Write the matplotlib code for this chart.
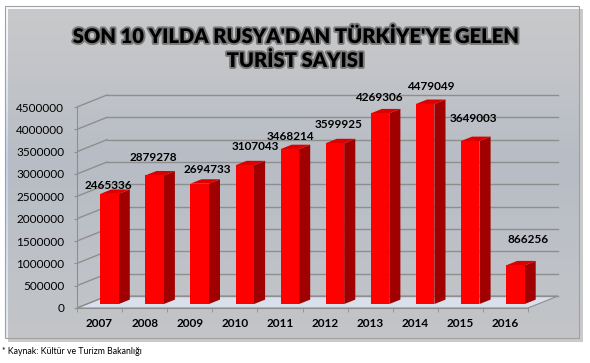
import numpy as np
import matplotlib
matplotlib.use("Agg")
import matplotlib.pyplot as plt
from matplotlib.patches import Polygon, Rectangle
import matplotlib.patheffects as pe

plt.rcParams["font.family"] = ["Lato", "DejaVu Sans"]

# ── Data ───────────────────────────────────────────────────────────────
YEARS = ["2007", "2008", "2009", "2010", "2011", "2012", "2013", "2014", "2015", "2016"]
TOURISTS = [2465336, 2879278, 2694733, 3107043, 3468214, 3599925,
            4269306, 4479049, 3649003, 866256]
Y_TICKS = list(range(0, 4500001, 500000))

TITLE_1 = "SON 10 YILDA RUSYA'DAN TÜRKİYE'YE GELEN"
TITLE_2 = "TURİST SAYISI"
SOURCE = "* Kaynak: Kültür ve Turizm Bakanlığı"

# label nudges (pixels) relative to the top of each bar's front face
LABEL_DX = [-1, -1, 8, 11, 1, 4, -1, 6, 3, 13]
LABEL_DY = [8, 18, 14, 19, 13, 19, 16, 17, 23, 26]

# ── Geometry (pixels) ──────────────────────────────────────────────────
W, H = 590, 363
PX_CAT = 45.1                 # pixels per category on the front plane
PX_VAL = 201 / 4.5e6          # pixels per tourist
DX = 30 / PX_CAT              # depth offset of the back wall, category units
DY = 12 / PX_VAL              # depth offset of the back wall, value units
F0, F1, BW = 0.33, 0.70, 0.41  # bar depth span and width

GRID = "#8e8e8e"

fig = plt.figure(figsize=(W / 100, H / 100), dpi=100)

# background frame with gradient
bg = fig.add_axes([0, 0, 1, 1])
bg.axis("off")
bg.add_patch(Rectangle((8, 9), 575, 333, color="#b4b4b4", alpha=0.7, lw=0))
stops = [0.0, 0.15, 0.47, 0.8, 1.0]
cols = np.array([[0.97, 0.98, 1.00], [0.92, 0.94, 0.98], [0.75, 0.82, 0.93],
                 [0.85, 0.89, 0.96], [0.90, 0.93, 0.97]])
t = np.linspace(0, 1, 300)
grad = np.stack([np.interp(t, stops, cols[:, c]) for c in range(3)], axis=1)
grad = np.repeat(grad[:, None, :], 2, axis=1)
bg.imshow(grad, extent=(5, 579, 338, 6), aspect="auto", interpolation="bilinear")
bg.add_patch(Rectangle((5, 6), 574, 332, fill=False, edgecolor="#a0a0a0", lw=0.8))
bg.set_xlim(0, W)
bg.set_ylim(H, 0)

# plot area
ax = fig.add_axes([77 / W, (H - 308) / H, 10.7 * PX_CAT / W, 4.8e6 * PX_VAL / H])
ax.set_xlim(-0.5, 10.2)
ax.set_ylim(0, 4.8e6)
ax.patch.set_alpha(0)

n = len(YEARS)
x_lo, x_hi = -0.5, n - 0.5

# floor
ax.add_patch(Polygon([(x_lo, 0), (x_hi, 0), (x_hi + DX, DY), (x_lo + DX, DY)],
                     closed=True, facecolor="#d9e0ec", edgecolor=GRID, lw=0.8, zorder=1))

# back wall + side wall gridlines
for v in Y_TICKS:
    ax.plot([x_lo + DX, x_hi + DX], [v + DY, v + DY], color=GRID, lw=1.0, zorder=1.5)
    ax.plot([x_lo, x_lo + DX], [v, v + DY], color=GRID, lw=1.0, zorder=1.5)

# bars: front face through ax.bar, side and top faces as polygons
x = np.arange(n)
xc = x + F0 * DX
ddx, ddy = (F1 - F0) * DX, (F1 - F0) * DY
ax.bar(xc, TOURISTS, width=BW, bottom=F0 * DY, color="#ff0000", zorder=4)
for xi, v in zip(xc, TOURISTS):
    xl, xr = xi - BW / 2, xi + BW / 2
    y0, y1 = F0 * DY, v + F0 * DY
    ax.add_patch(Polygon([(xr, y0), (xr, y1), (xr + ddx, y1 + ddy), (xr + ddx, y0 + ddy)],
                         closed=True, facecolor="#a00000", lw=0, zorder=3))
    ax.add_patch(Polygon([(xl, y1), (xr, y1), (xr + ddx, y1 + ddy), (xl + ddx, y1 + ddy)],
                         closed=True, facecolor="#dc0000", lw=0, zorder=3))

# value labels
for xi, v, dx, dy in zip(xc, TOURISTS, LABEL_DX, LABEL_DY):
    ax.annotate(f"{v}", xy=(xi, v + F0 * DY), xytext=(dx, dy), textcoords="offset pixels",
                ha="center", va="center", fontsize=8.5, fontweight="bold", color="black",
                zorder=6)

# axes styling
for s in ["top", "right"]:
    ax.spines[s].set_visible(False)
ax.spines["left"].set_bounds(0, 4.5e6)
ax.spines["bottom"].set_bounds(x_lo, x_hi)
for s in ["left", "bottom"]:
    ax.spines[s].set_color(GRID)
    ax.spines[s].set_linewidth(0.8)

ax.set_yticks(Y_TICKS)
ax.set_yticklabels([str(v) for v in Y_TICKS])
ax.tick_params(axis="y", length=2.2, pad=7, colors=GRID, labelcolor="black", labelsize=8.5)

ax.set_xticks(x)
ax.set_xticklabels(YEARS, fontweight="bold")
ax.set_xticks(np.arange(x_lo, x_hi + 0.01, 1), minor=True)
ax.tick_params(axis="x", which="major", length=0, pad=7.5, labelsize=8.5)
ax.tick_params(axis="x", which="minor", length=3, color=GRID)

# title and source
title_fx = [pe.withStroke(linewidth=2.8, foreground="#7a7a7a")]
fig.text(295 / W, 1 - 36 / H, TITLE_1, ha="center", va="center", fontsize=14.5,
         fontweight="heavy", color="black", path_effects=title_fx)
fig.text(295 / W, 1 - 60 / H, TITLE_2, ha="center", va="center", fontsize=14.5,
         fontweight="heavy", color="black", path_effects=title_fx)
fig.text(2 / W, 1 - 352 / H, SOURCE, ha="left", va="center", fontsize=6.3, color="black")

fig.savefig("out.png", dpi=100)
